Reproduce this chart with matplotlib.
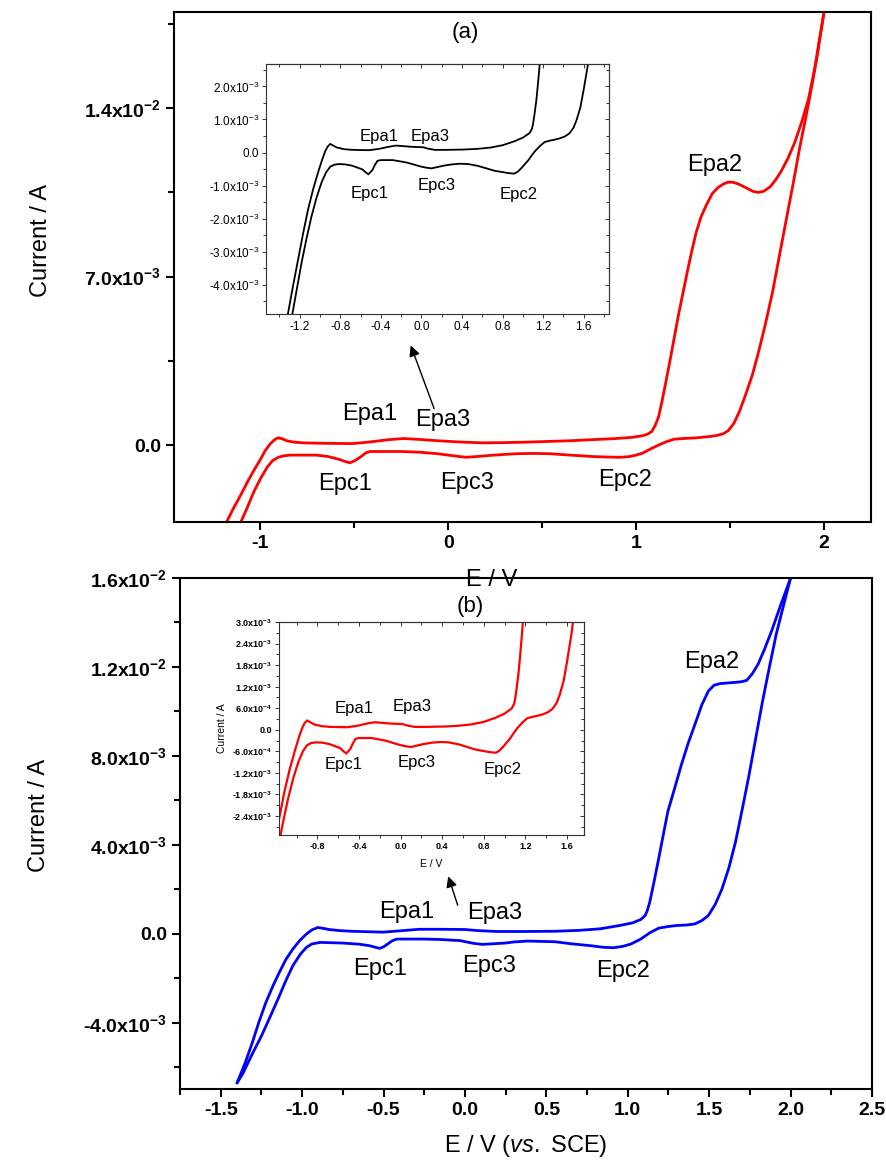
import numpy as np
import matplotlib
matplotlib.use("Agg")
import matplotlib.pyplot as plt
from matplotlib.ticker import MultipleLocator

plt.rcParams['font.family'] = ['Liberation Sans', 'DejaVu Sans']
plt.rcParams['mathtext.fontset'] = 'custom'
plt.rcParams['mathtext.rm'] = 'Liberation Sans'
plt.rcParams['mathtext.it'] = 'Liberation Sans:italic'
plt.rcParams['mathtext.bf'] = 'Liberation Sans:bold'
plt.rcParams['mathtext.default'] = 'regular'

# ---- panel (a), main CV (V, mA) ----
a_up_v = [-1.35, -1.183, -1.145, -1.107, -1.07, -1.036, -1.0, -0.976, -0.95, -0.929, -0.915,
          -0.905, -0.885, -0.857, -0.82, -0.774, -0.65, -0.512, -0.45, -0.393, -0.32, -0.238,
          -0.15, -0.06, 0.05, 0.179, 0.30, 0.417, 0.655, 0.893, 0.98, 1.036, 1.06, 1.083, 1.10,
          1.119, 1.137, 1.155, 1.18, 1.202, 1.225, 1.25, 1.275, 1.298, 1.32, 1.345, 1.375,
          1.405, 1.435, 1.464, 1.49, 1.517, 1.55, 1.583, 1.62, 1.65, 1.68, 1.714, 1.745, 1.774,
          1.81, 1.845, 1.88, 1.917, 1.96, 2.0]
a_up_i = [-6.5, -3.25, -2.65, -2.11, -1.55, -1.07, -0.6, -0.25, 0.03, 0.19, 0.27,
          0.30, 0.26, 0.17, 0.12, 0.09, 0.07, 0.06, 0.10, 0.15, 0.22, 0.27,
          0.23, 0.18, 0.13, 0.09, 0.10, 0.12, 0.18, 0.27, 0.32, 0.39, 0.45, 0.56, 0.80,
          1.16, 1.8, 2.50, 3.5, 4.43, 5.4, 6.36, 7.3, 8.14, 8.85, 9.48, 10.0,
          10.45, 10.7, 10.85, 10.93, 10.92, 10.83, 10.70, 10.55, 10.50, 10.55, 10.74, 11.05, 11.41,
          11.95, 12.6, 13.4, 14.38, 16.0, 18.0]
a_dn_v = [2.0, 1.97, 1.94, 1.905, 1.869, 1.834, 1.798, 1.762, 1.726, 1.69, 1.655, 1.62, 1.583,
          1.55, 1.52, 1.49, 1.464, 1.43, 1.40, 1.321, 1.25, 1.202, 1.165, 1.131, 1.08, 1.036,
          1.0, 0.964, 0.917, 0.85, 0.774, 0.65, 0.536, 0.45, 0.369, 0.30, 0.226, 0.15, 0.095,
          0.05, -0.06, -0.15, -0.25, -0.417, -0.44, -0.464, -0.495, -0.524, -0.555, -0.583,
          -0.64, -0.702, -0.845, -0.875, -0.905, -0.935, -0.964, -1.0, -1.036, -1.07, -1.107,
          -1.35]
a_dn_i = [18.0, 16.6, 15.13, 13.7, 12.3, 10.8, 9.33, 7.85, 6.36, 5.1, 3.98, 2.95, 2.1,
          1.4, 0.9, 0.6, 0.47, 0.40, 0.36, 0.30, 0.27, 0.24, 0.15, 0.04, -0.15, -0.33,
          -0.42, -0.48, -0.51, -0.50, -0.48, -0.42, -0.36, -0.35, -0.36, -0.39, -0.43, -0.48, -0.51,
          -0.47, -0.36, -0.30, -0.27, -0.27, -0.33, -0.48, -0.64, -0.74, -0.67, -0.59,
          -0.48, -0.42, -0.42, -0.45, -0.51, -0.65, -0.92, -1.4, -1.96, -2.6, -3.25,
          -6.5]

# ---- panel (b), main CV (V, mA) ----
b_up_v = [-1.40, -1.35, -1.306, -1.265, -1.223, -1.18, -1.14, -1.10, -1.057, -1.015, -0.973,
          -0.94, -0.904, -0.87, -0.835, -0.77, -0.696, -0.502, -0.40, -0.28, -0.15, -0.002,
          0.08, 0.192, 0.35, 0.552, 0.70, 0.83, 0.95, 1.03, 1.08, 1.107, 1.12, 1.135, 1.16,
          1.19, 1.218, 1.246, 1.29, 1.329, 1.37, 1.412, 1.455, 1.495, 1.53, 1.565, 1.61, 1.662,
          1.70, 1.731, 1.765, 1.8, 1.84, 1.884, 1.94, 2.0]
b_up_i = [-6.7, -5.8, -4.89, -3.95, -3.09, -2.35, -1.73, -1.15, -0.68, -0.3, 0.0,
          0.18, 0.29, 0.25, 0.20, 0.15, 0.12, 0.08, 0.14, 0.21, 0.21, 0.20,
          0.15, 0.11, 0.11, 0.12, 0.16, 0.23, 0.38, 0.50, 0.65, 0.83, 1.05, 1.43, 2.3,
          3.39, 4.45, 5.5, 6.6, 7.6, 8.55, 9.41, 10.3, 10.92, 11.18, 11.25, 11.28, 11.31,
          11.34, 11.4, 11.7, 12.12, 12.8, 13.63, 14.8, 16.0]
b_dn_v = [2.0, 1.956, 1.912, 1.87, 1.828, 1.786, 1.745, 1.703, 1.662, 1.62, 1.579, 1.537, 1.495,
          1.455, 1.412, 1.36, 1.301, 1.245, 1.19, 1.135, 1.08, 1.02, 0.968, 0.913, 0.85, 0.774,
          0.65, 0.552, 0.386, 0.30, 0.247, 0.108, 0.05, -0.03, -0.15, -0.252, -0.419, -0.45,
          -0.474, -0.50, -0.524, -0.55, -0.585, -0.65, -0.751, -0.89, -0.94, -0.973, -1.01,
          -1.057, -1.10, -1.14, -1.195, -1.25, -1.31, -1.362, -1.40]
b_dn_i = [16.0, 14.75, 13.48, 12.0, 10.47, 8.8, 7.15, 5.6, 4.14, 2.95, 2.03, 1.33, 0.83,
          0.6, 0.45, 0.40, 0.38, 0.33, 0.26, 0.05, -0.23, -0.45, -0.56, -0.62, -0.60, -0.53,
          -0.44, -0.35, -0.32, -0.36, -0.41, -0.47, -0.42, -0.30, -0.25, -0.23, -0.23, -0.32,
          -0.45, -0.58, -0.65, -0.60, -0.53, -0.46, -0.41, -0.38, -0.45, -0.60, -0.9,
          -1.43, -2.1, -2.79, -3.7, -4.59, -5.45, -6.25, -6.7]

# ---- inset CV (V, mA), same in both insets ----
ins_up_v = [-1.37, -1.317, -1.267, -1.217, -1.167, -1.117, -1.067, -1.017, -0.983, -0.95,
            -0.925, -0.90, -0.87, -0.833, -0.76, -0.683, -0.517, -0.417, -0.33, -0.25, -0.17,
            -0.083, 0.017, 0.06, 0.133, 0.25, 0.417, 0.55, 0.683, 0.80, 0.917, 1.0, 1.067, 1.09,
            1.10, 1.115, 1.133, 1.15, 1.167, 1.20]
ins_up_i = [-6.2, -4.89, -4.05, -3.25, -2.45, -1.71, -1.1, -0.58, -0.25, 0.03,
            0.18, 0.26, 0.21, 0.15, 0.10, 0.08, 0.07, 0.11, 0.17, 0.21, 0.19,
            0.17, 0.16, 0.12, 0.08, 0.08, 0.09, 0.11, 0.15, 0.22, 0.34, 0.45, 0.59, 0.72,
            0.85, 1.15, 1.57, 2.1, 2.68, 4.0]
ins_dn_v = [1.70, 1.643, 1.60, 1.567, 1.53, 1.50, 1.46, 1.417, 1.367, 1.317, 1.267, 1.217, 1.17,
            1.117, 1.05, 0.983, 0.95, 0.917, 0.88, 0.85, 0.717, 0.63, 0.55, 0.46, 0.383, 0.30,
            0.217, 0.10, 0.05, 0.0, -0.15, -0.283, -0.40, -0.433, -0.46, -0.483, -0.523, -0.55,
            -0.583, -0.683, -0.75, -0.817, -0.86, -0.90, -0.94, -0.983, -1.033, -1.083, -1.133,
            -1.183, -1.273, -1.37]
ins_dn_i = [4.0, 2.68, 1.9, 1.36, 0.98, 0.75, 0.58, 0.49, 0.43, 0.39, 0.36, 0.32, 0.2,
            0.03, -0.25, -0.48, -0.58, -0.64, -0.63, -0.62, -0.55, -0.47, -0.40, -0.35, -0.34, -0.36,
            -0.40, -0.48, -0.46, -0.43, -0.30, -0.23, -0.23, -0.25, -0.38, -0.53, -0.66, -0.60,
            -0.51, -0.40, -0.36, -0.35, -0.37, -0.43, -0.6, -0.89, -1.35, -1.92, -2.6,
            -3.35, -4.89, -6.2]

# ---- ticks ----
a_xticks = [-1, 0, 1, 2]
a_xlabels = ['-1', '0', '1', '2']
a_yticks = [0.0, 0.007, 0.014]
a_ylabels = ['0.0', '7.0x10$^{-3}$', '1.4x10$^{-2}$']
b_xticks = [-1.5, -1.0, -0.5, 0.0, 0.5, 1.0, 1.5, 2.0, 2.5]
b_xlabels = ['-1.5', '-1.0', '-0.5', '0.0', '0.5', '1.0', '1.5', '2.0', '2.5']
b_yticks = [-0.004, 0.0, 0.004, 0.008, 0.012, 0.016]
b_ylabels = ['-4.0x10$^{-3}$', '0.0', '4.0x10$^{-3}$', '8.0x10$^{-3}$',
             '1.2x10$^{-2}$', '1.6x10$^{-2}$']
ia_xticks = [-1.2, -0.8, -0.4, 0.0, 0.4, 0.8, 1.2, 1.6]
ia_xlabels = ['-1.2', '-0.8', '-0.4', '0.0', '0.4', '0.8', '1.2', '1.6']
ia_yticks = [-0.004, -0.003, -0.002, -0.001, 0.0, 0.001, 0.002]
ia_ylabels = ['-4.0x10$^{-3}$', '-3.0x10$^{-3}$', '-2.0x10$^{-3}$', '-1.0x10$^{-3}$',
              '0.0', '1.0x10$^{-3}$', '2.0x10$^{-3}$']
ib_xticks = [-0.8, -0.4, 0.0, 0.4, 0.8, 1.2, 1.6]
ib_xlabels = ['-0.8', '-0.4', '0.0', '0.4', '0.8', '1.2', '1.6']
ib_yticks = [-0.0024, -0.0018, -0.0012, -0.0006, 0.0, 0.0006, 0.0012, 0.0018, 0.0024, 0.003]
ib_ylabels = ['-2.4x10$^{-3}$', '-1.8x10$^{-3}$', '-1.2x10$^{-3}$', '-6.0x10$^{-4}$', '0.0',
              '6.0x10$^{-4}$', '1.2x10$^{-3}$', '1.8x10$^{-3}$', '2.4x10$^{-3}$', '3.0x10$^{-3}$']

peak_names = ['Epa1', 'Epa3', 'Epc1', 'Epc3', 'Epc2']


def mA(vals):
    return np.array(vals) * 1e-3


W, H = 886, 1166
fig = plt.figure(figsize=(W / 100, H / 100), dpi=100)


def box(l, t, r, b):
    return [l / W, 1 - b / H, (r - l) / W, (b - t) / H]


def style_main(ax, xt, xl, yt, yl, xminor, yminor):
    for s in ax.spines.values():
        s.set_linewidth(1.5)
    ax.set_xticks(xt, labels=xl)
    ax.set_yticks(yt, labels=yl)
    ax.xaxis.set_minor_locator(MultipleLocator(xminor))
    ax.yaxis.set_minor_locator(MultipleLocator(yminor))
    ax.tick_params(which='both', direction='out', width=1.5, top=False, right=False)
    ax.tick_params(which='major', length=6)
    ax.tick_params(which='minor', length=4)
    for t in ax.get_xticklabels() + ax.get_yticklabels():
        t.set_fontweight('bold')
        t.set_fontsize(14)


def style_inset(ax, xt, xl, yt, yl, xminor, yminor, fs, bold):
    for s in ax.spines.values():
        s.set_linewidth(0.8)
        s.set_color('#333333')
    ax.set_xticks(xt, labels=xl)
    ax.set_yticks(yt, labels=yl)
    ax.xaxis.set_minor_locator(MultipleLocator(xminor))
    ax.yaxis.set_minor_locator(MultipleLocator(yminor))
    ax.tick_params(which='both', direction='out', width=0.7, color='#333333', pad=2)
    ax.tick_params(which='major', length=3)
    ax.tick_params(which='minor', length=2)
    for t in ax.get_xticklabels() + ax.get_yticklabels():
        t.set_fontsize(fs)
        if bold:
            t.set_fontweight('bold')
    top = ax.secondary_xaxis('top')
    top.set_xticks(xt, labels=[])
    top.xaxis.set_minor_locator(MultipleLocator(xminor))
    top.tick_params(which='both', direction='in', width=0.7, color='#333333')
    top.tick_params(which='major', length=3)
    top.tick_params(which='minor', length=2)
    top.spines['top'].set_linewidth(0.8)
    top.spines['top'].set_color('#333333')
    right = ax.secondary_yaxis('right')
    right.set_yticks(yt, labels=[])
    right.yaxis.set_minor_locator(MultipleLocator(yminor))
    right.tick_params(which='both', direction='in', width=0.7, color='#333333')
    right.tick_params(which='major', length=3)
    right.tick_params(which='minor', length=2)
    right.spines['right'].set_linewidth(0.8)
    right.spines['right'].set_color('#333333')


line_kw = dict(solid_joinstyle='round', solid_capstyle='round')

# ================= panel (a) =================
ax_a = fig.add_axes(box(174, 12, 871, 522))
ax_a.plot(a_up_v, mA(a_up_i), color='#ff0000', lw=2.0, **line_kw)
ax_a.plot(a_dn_v, mA(a_dn_i), color='#ff0000', lw=2.0, **line_kw)
ax_a.set_xlim(-1.46, 2.25)
ax_a.set_ylim(-0.0032, 0.018)
style_main(ax_a, a_xticks, a_xlabels, a_yticks, a_ylabels, 0.5, 0.0035)
ax_a.set_ylabel('Current / A', fontsize=17)
ax_a.yaxis.set_label_coords(-0.175, 0.553)
fig.text(492 / W, 1 - 580 / H, 'E / V', fontsize=17, ha='center', va='center')

a_ann_xy = [(-0.42, 0.00128), (-0.03, 0.00105), (-0.55, -0.00163), (0.10, -0.00159), (0.94, -0.00144)]
for name, (x, y) in zip(peak_names, a_ann_xy):
    ax_a.text(x, y, name, fontsize=17, ha='center', va='center')
ax_a.text(1.42, 0.01163, 'Epa2', fontsize=17, ha='center', va='center')
ax_a.text(0.09, 0.01713, '(a)', fontsize=16, ha='center', va='center')
ax_a.annotate('', xy=(-0.205, 0.00425), xytext=(-0.07, 0.0014),
              arrowprops=dict(arrowstyle='-|>', color='black', lw=1.0, mutation_scale=16))

ins_a = fig.add_axes(box(266, 64, 609, 314))
ins_a.plot(ins_up_v, mA(ins_up_i), color='black', lw=1.3, **line_kw)
ins_a.plot(ins_dn_v, mA(ins_dn_i), color='black', lw=1.3, **line_kw)
ins_a.set_xlim(-1.533, 1.85)
ins_a.set_ylim(-0.00489, 0.00268)
style_inset(ins_a, ia_xticks, ia_xlabels, ia_yticks, ia_ylabels, 0.2, 0.0005, 8.5, False)
ia_ann_xy = [(-0.42, 0.00049), (0.09, 0.00049), (-0.51, -0.00125), (0.15, -0.00099), (0.957, -0.00128)]
for name, (x, y) in zip(peak_names, ia_ann_xy):
    ins_a.text(x, y, name, fontsize=12, ha='center', va='center')

# ================= panel (b) =================
ax_b = fig.add_axes(box(180, 578, 872, 1089))
ax_b.plot(b_up_v, mA(b_up_i), color='#0000ff', lw=2.0, **line_kw)
ax_b.plot(b_dn_v, mA(b_dn_i), color='#0000ff', lw=2.0, **line_kw)
ax_b.set_xlim(-1.75, 2.5)
ax_b.set_ylim(-0.00697, 0.016)
style_main(ax_b, b_xticks, b_xlabels, b_yticks, b_ylabels, 0.25, 0.002)
ax_b.set_ylabel('Current / A', fontsize=17)
ax_b.yaxis.set_label_coords(-0.188, 0.536)
ax_b.set_xlabel(r'E / V ($\it{vs.}$ SCE)', fontsize=17, labelpad=10)

b_ann_xy = [(-0.36, 0.00098), (0.18, 0.00095), (-0.52, -0.00158), (0.15, -0.00146), (0.97, -0.00166)]
for name, (x, y) in zip(peak_names, b_ann_xy):
    ax_b.text(x, y, name, fontsize=17, ha='center', va='center')
ax_b.text(1.515, 0.01223, 'Epa2', fontsize=17, ha='center', va='center')
ax_b.text(0.03, 0.0147, '(b)', fontsize=16, ha='center', va='center')
ax_b.annotate('', xy=(-0.108, 0.00271), xytext=(-0.039, 0.00117),
              arrowprops=dict(arrowstyle='-|>', color='black', lw=1.0, mutation_scale=16))

ins_b = fig.add_axes(box(279, 622, 584, 835))
ins_b.plot(ins_up_v, mA(ins_up_i), color='#ff0000', lw=1.6, **line_kw)
ins_b.plot(ins_dn_v, mA(ins_dn_i), color='#ff0000', lw=1.6, **line_kw)
ins_b.set_xlim(-1.17, 1.763)
ins_b.set_ylim(-0.00293, 0.003)
style_inset(ins_b, ib_xticks, ib_xlabels, ib_yticks, ib_ylabels, 0.2, 0.0003, 6.5, True)
ins_b.set_xlabel('E / V', fontsize=7.5, labelpad=6)
ins_b.set_ylabel('Current / A', fontsize=7.5, labelpad=4)
ib_ann_xy = [(-0.45, 0.0006), (0.11, 0.00065), (-0.545, -0.00098), (0.154, -0.00091), (0.984, -0.00112)]
for name, (x, y) in zip(peak_names, ib_ann_xy):
    ins_b.text(x, y, name, fontsize=12, ha='center', va='center')

fig.savefig('out.png', dpi=100)
